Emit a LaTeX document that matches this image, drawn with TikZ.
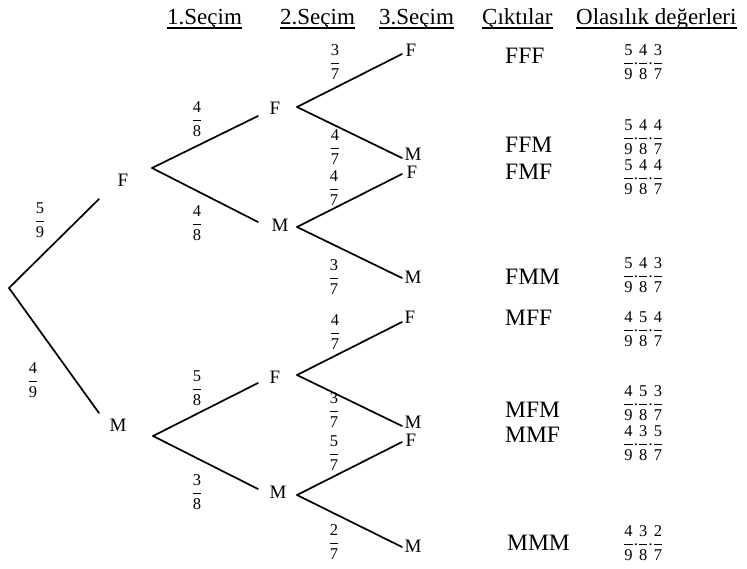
\documentclass[tikz,border=0pt]{standalone}
\usepackage{fontspec}
\setmainfont{Liberation Serif}
\usetikzlibrary{calc}

% fraction built from text digits
\newcommand\myfrac[2]{$\displaystyle\frac{\mbox{#1}}{\mbox{#2}}$}
\newcommand\pdot{\raisebox{2.5pt}{.}}
% product of the three branch probabilities
\newcommand\probprod[3]{\myfrac{#1}{9}\pdot\myfrac{#2}{8}\pdot\myfrac{#3}{7}}

\begin{document}
\begin{tikzpicture}[x=1pt,y=-1pt,
  branch/.style={line width=1.7pt, line cap=round},
  leaf/.style={font=\fontsize{19}{19}\selectfont, inner sep=0pt},
  wt/.style={font=\fontsize{16.5}{16.5}\selectfont, inner sep=0pt},
  head/.style={font=\fontsize{23}{23}\selectfont, inner sep=0pt, anchor=base west},
  outc/.style={font=\fontsize{23.5}{23.5}\selectfont, inner sep=0pt, anchor=west},
  pr/.style={font=\fontsize{16.5}{16.5}\selectfont, inner sep=0pt, anchor=west},
  uline/.style={line width=1.2pt}]
\useasboundingbox (0,0) rectangle (747,568);

% column headings
\node[head] (h1) at (167,24) {1.Seçim};
\node[head] (h2) at (280,24) {2.Seçim};
\node[head] (h3) at (379,24) {3.Seçim};
\node[head] (h4) at (482,24) {Çıktılar};
\node[head] (h5) at (576,24) {Olasılık değerleri};
\foreach \h in {h1,h2,h3,h4,h5}
  \draw[uline] ($(\h.base west)+(0,4)$) -- ($(\h.base east)+(0,4)$);

% root
\coordinate (root) at (9,288);

% first choice
\node[leaf] (n1F) at (123,180) {F};
\coordinate (n1Fin) at (99,199);  \coordinate (n1Fout) at (152,168);
\node[leaf] (n1M) at (118,425) {M};
\coordinate (n1Min) at (99,413);  \coordinate (n1Mout) at (153,436);

% second choice
\node[leaf] (n2FF) at (275,108) {F};
\coordinate (n2FFin) at (258,116); \coordinate (n2FFout) at (297,107);
\node[leaf] (n2FM) at (280,225) {M};
\coordinate (n2FMin) at (258,222); \coordinate (n2FMout) at (297,227);
\node[leaf] (n2MF) at (275,377) {F};
\coordinate (n2MFin) at (258,383); \coordinate (n2MFout) at (297,375);
\node[leaf] (n2MM) at (278,492) {M};
\coordinate (n2MMin) at (258,489); \coordinate (n2MMout) at (297,495);

% third choice
\node[leaf] (n3FFF) at (411,50) {F};   \coordinate (n3FFFin) at (402,54);
\node[leaf] (n3FFM) at (413,154) {M};  \coordinate (n3FFMin) at (402,158);
\node[leaf] (n3FMF) at (412,172) {F};  \coordinate (n3FMFin) at (402,174);
\node[leaf] (n3FMM) at (413,277) {M};  \coordinate (n3FMMin) at (402,278);
\node[leaf] (n3MFF) at (410,317) {F};  \coordinate (n3MFFin) at (402,322);
\node[leaf] (n3MFM) at (413,422) {M};  \coordinate (n3MFMin) at (402,426);
\node[leaf] (n3MMF) at (411,440) {F};  \coordinate (n3MMFin) at (402,442);
\node[leaf] (n3MMM) at (413,546) {M};  \coordinate (n3MMMin) at (402,547);

% branches
\draw[branch] (root) -- (n1Fin);
\draw[branch] (root) -- (n1Min);
\draw[branch] (n1Fout) -- (n2FFin);
\draw[branch] (n1Fout) -- (n2FMin);
\draw[branch] (n1Mout) -- (n2MFin);
\draw[branch] (n1Mout) -- (n2MMin);
\draw[branch] (n2FFout) -- (n3FFFin);
\draw[branch] (n2FFout) -- (n3FFMin);
\draw[branch] (n2FMout) -- (n3FMFin);
\draw[branch] (n2FMout) -- (n3FMMin);
\draw[branch] (n2MFout) -- (n3MFFin);
\draw[branch] (n2MFout) -- (n3MFMin);
\draw[branch] (n2MMout) -- (n3MMFin);
\draw[branch] (n2MMout) -- (n3MMMin);

% branch probabilities
\node[wt] (w1F) at (40,220) {\myfrac{5}{9}};
\node[wt] (w1M) at (33,380) {\myfrac{4}{9}};
\node[wt] (w2FF) at (197,119) {\myfrac{4}{8}};
\node[wt] (w2FM) at (197,223) {\myfrac{4}{8}};
\node[wt] (w2MF) at (197,388) {\myfrac{5}{8}};
\node[wt] (w2MM) at (197,492) {\myfrac{3}{8}};
\node[wt] (w3FFF) at (335,62) {\myfrac{3}{7}};
\node[wt] (w3FFM) at (335,147) {\myfrac{4}{7}};
\node[wt] (w3FMF) at (334,188) {\myfrac{4}{7}};
\node[wt] (w3FMM) at (334,277) {\myfrac{3}{7}};
\node[wt] (w3MFF) at (335,332) {\myfrac{4}{7}};
\node[wt] (w3MFM) at (334,410) {\myfrac{3}{7}};
\node[wt] (w3MMF) at (334,453) {\myfrac{5}{7}};
\node[wt] (w3MMM) at (334,542) {\myfrac{2}{7}};

% outcomes
\node[outc] (oFFF) at (505,56) {FFF};
\node[outc] (oFFM) at (505,145) {FFM};
\node[outc] (oFMF) at (505,172) {FMF};
\node[outc] (oFMM) at (505,277) {FMM};
\node[outc] (oMFF) at (505,318) {MFF};
\node[outc] (oMFM) at (505,410) {MFM};
\node[outc] (oMMF) at (505,435) {MMF};
\node[outc] (oMMM) at (507,543) {MMM};

% outcome probabilities
\node[pr] (pFFF) at (623,62) {\probprod{5}{4}{3}};
\node[pr] (pFFM) at (623,137) {\probprod{5}{4}{4}};
\node[pr] (pFMF) at (623,177) {\probprod{5}{4}{4}};
\node[pr] (pFMM) at (623,275) {\probprod{5}{4}{3}};
\node[pr] (pMFF) at (623,329) {\probprod{4}{5}{4}};
\node[pr] (pMFM) at (623,403) {\probprod{4}{5}{3}};
\node[pr] (pMMF) at (623,443) {\probprod{4}{3}{5}};
\node[pr] (pMMM) at (623,543) {\probprod{4}{3}{2}};
\end{tikzpicture}
\end{document}
